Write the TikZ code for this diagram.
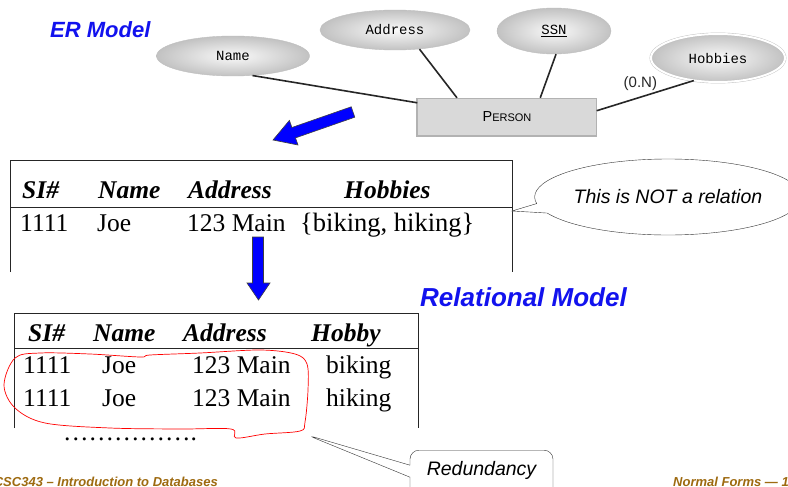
\documentclass[tikz,border=0pt]{standalone}
\usepackage{fontspec}
\setmainfont{Liberation Serif}
\setsansfont{Liberation Sans}
\newfontfamily\ermono{Liberation Mono}
\usetikzlibrary{shapes.geometric,shapes.callouts}
\definecolor{erblue}{RGB}{18,18,238}
\definecolor{footbrown}{RGB}{158,106,16}
\newcommand{\px}[1]{\fontsize{#1}{#1}\selectfont}

\begin{document}
\begin{tikzpicture}[x=1pt,y=-1pt,
  attr/.style={ellipse,draw=gray!50,shading=radial,inner color=gray!4,outer color=gray!48,inner sep=0pt,font=\ermono\px{14}},
  erline/.style={line width=1.6pt,black!85},
  hd/.style={anchor=base west,inner sep=0pt,font=\px{25.5}\bfseries\itshape},
  cell/.style={anchor=base west,inner sep=0pt,font=\px{25.5}},
  tabline/.style={line width=0.8pt,black!85},
  title/.style={anchor=base west,inner sep=0pt,text=erblue,font=\sffamily\bfseries\itshape},
  note/.style={draw=black!80,fill=white,inner sep=0pt,font=\sffamily\itshape\px{19.5}},
  foot/.style={inner sep=0pt,text=footbrown,font=\sffamily\bfseries\itshape\px{13}},
  blk/.style={fill=blue,draw=black!75,line width=0.6pt}]
\useasboundingbox[fill=white] (0,0) rectangle (788,487);
% ER model
\node[title,font=\sffamily\bfseries\itshape\px{22}] (ertitle) at (50,38) {ER Model};
\node[attr,minimum width=153pt,minimum height=40pt] (name) at (233,56) {Name};
\node[attr,minimum width=150pt,minimum height=40pt] (address) at (395,30) {Address};
\node[attr,minimum width=114pt,minimum height=46pt] (ssn) at (554,31) {\underline{SSN}};
\node[attr,double=white,double distance=2pt,minimum width=134pt,minimum height=48pt] (hobbies) at (718,58) {Hobbies};
\node[draw=gray!60,fill=gray!30,minimum width=179pt,minimum height=38pt,inner sep=0pt,font=\sffamily] (person) at (507,117) {\px{14.5}P\px{11}ERSON};
\draw[gray!60,line width=2pt] (person.north west) -- (person.south west) -- (person.south east);
\draw[erline] (name.-45) -- (person.171);
\draw[erline] (address.-38) -- (person.159);
\draw[erline] (ssn.-85) -- (person.30);
\draw[erline] (hobbies.-137) -- node[pos=0.55,above=6pt,inner sep=0pt,font=\sffamily\px{15}] (card) {(0.N)} (person.4);
\draw[blk] (351.2,106.8) -- (354.8,117.2) -- (295.5,137.9) -- (298,145) -- (273,140) -- (289.4,120.4) -- (291.9,127.5) -- cycle;
% Non-relational table
\draw[tabline] (10,272) -- (10,160) -- (512,160) -- (512,272);
\draw[tabline] (10,207) -- (512,207);
\node[hd] (h1) at (22,198) {SI\#};
\node[hd] (h2) at (98,198) {Name};
\node[hd] (h3) at (188,198) {Address};
\node[hd] (h4) at (344,198) {Hobbies};
\node[cell] (c1) at (20,231) {1111};
\node[cell] (c2) at (97,231) {Joe};
\node[cell] (c3) at (187,231) {123 Main};
\node[cell,font=\px{26.5}] (c4) at (300,231) {\{biking, hiking\}};
\coordinate (nr) at (512,211);
\node[note,ellipse callout,callout absolute pointer={(nr)},minimum width=228pt,minimum height=76pt] (notrel) at (668,197) {This is NOT a relation};
\draw[blk] (252.5,237) -- (263.5,237) -- (263.5,283) -- (270,283) -- (258.5,300) -- (247,283) -- (252.5,283) -- cycle;
% Relational table
\node[title,font=\sffamily\bfseries\itshape\px{26}] (reltitle) at (420,306) {Relational Model};
\draw[tabline] (14,428) -- (14,313) -- (418,313) -- (418,428);
\draw[tabline] (14,348) -- (418,348);
\node[hd] (r1) at (28,341) {SI\#};
\node[hd] (r2) at (93,341) {Name};
\node[hd] (r3) at (183,341) {Address};
\node[hd] (r4) at (311,341) {Hobby};
\node[cell] (a1) at (23,373.5) {1111};
\node[cell] (a2) at (102,373.5) {Joe};
\node[cell] (a3) at (192,373.5) {123 Main};
\node[cell] (a4) at (326,373.5) {biking};
\node[cell] (b1) at (23,406) {1111};
\node[cell] (b2) at (102,406) {Joe};
\node[cell] (b3) at (192,406) {123 Main};
\node[cell] (b4) at (326,406) {hiking};
\node[cell] (dots) at (63,440) {…………….};
\draw[red,line width=0.7pt] plot[smooth cycle,tension=0.55] coordinates {(15,358) (40,353) (90,354) (140,357) (150,355) (200,353) (260,350) (295,354) (307,364) (308,390) (305,422) (300,431) (265,434) (236,438) (231,429) (180,429) (110,428) (45,423) (15,408) (4,385)};
\coordinate (rd) at (307,435);
\node[note,rectangle callout,rounded corners=9pt,callout absolute pointer={(rd)},callout pointer width=12pt,minimum width=143pt,inner ysep=11pt,text depth=20pt,anchor=north] (redund) at (481.5,450) {Redundancy};
% Footer
\node[foot,anchor=base east] (course) at (218,486.5) {CSC343 – Introduction to Databases};
\node[foot,anchor=base west] (topic) at (673,486.5) {Normal Forms — 1};
\end{tikzpicture}
\end{document}
